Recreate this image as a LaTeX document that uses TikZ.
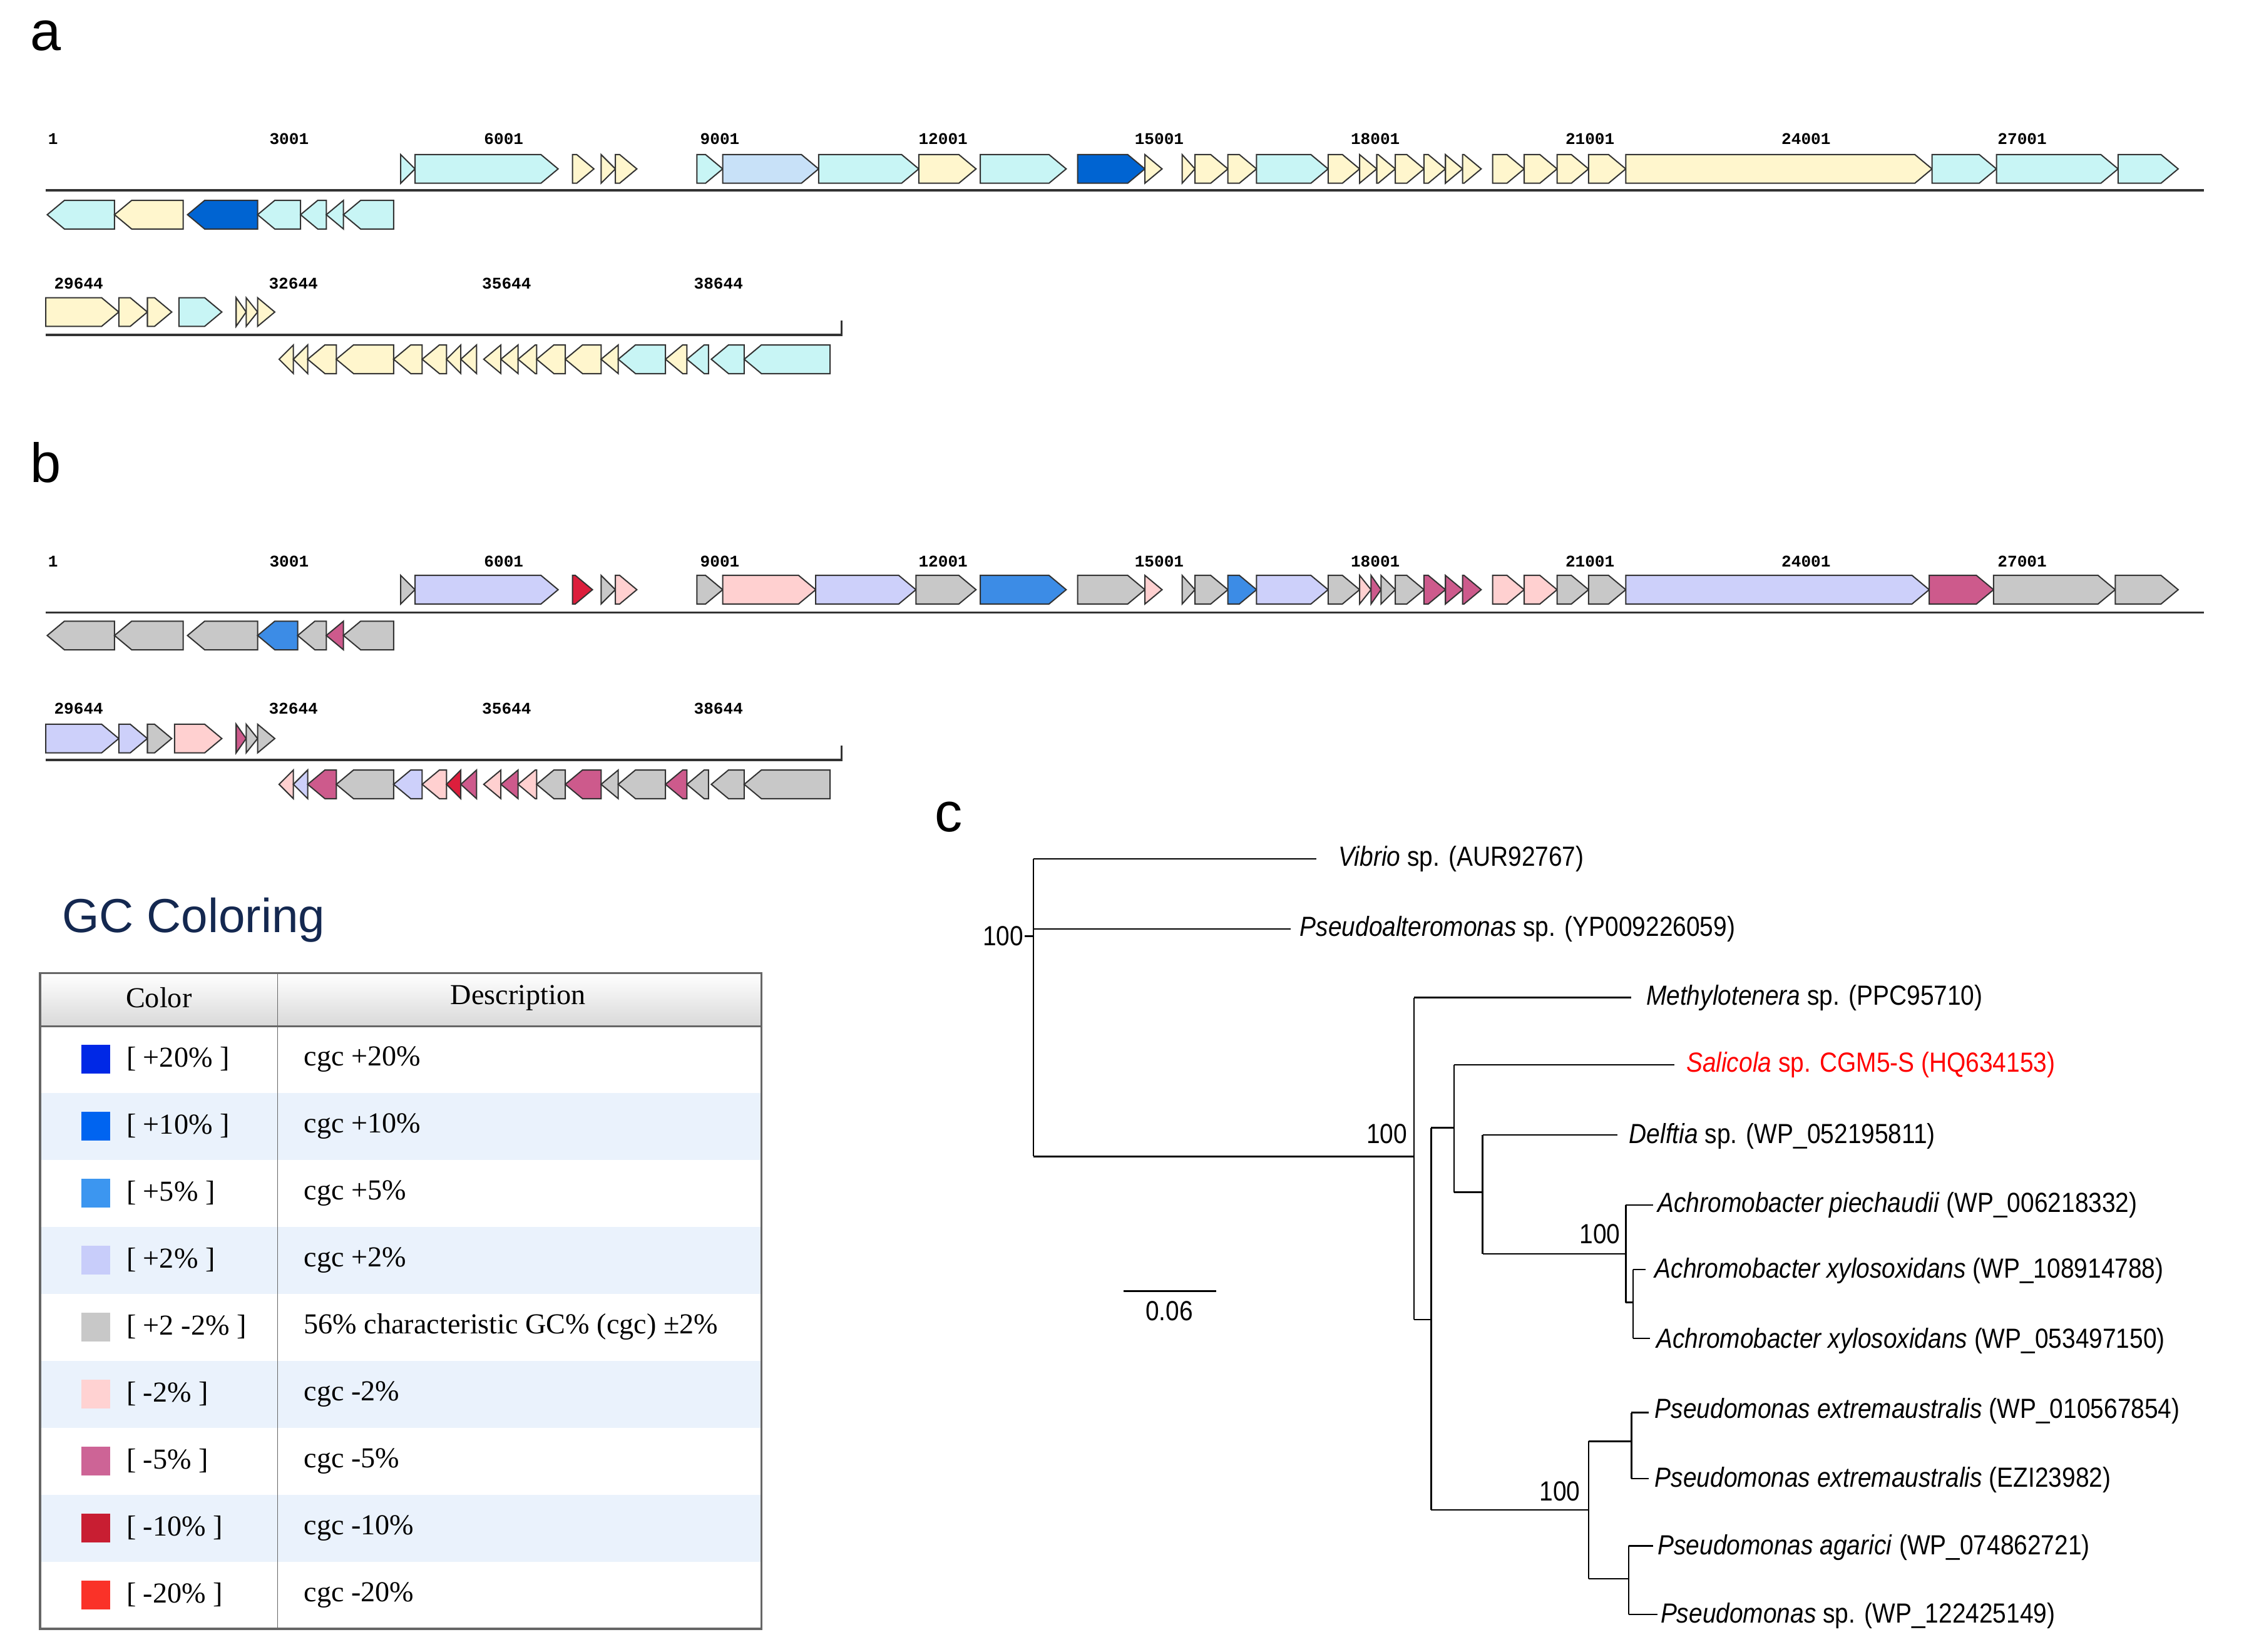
\documentclass[tikz,border=0pt]{standalone}
\usepackage{fontspec}
\setmainfont{Liberation Serif}
\newfontfamily\sans{Liberation Sans}
\newfontfamily\nsans[FakeStretch=0.88]{Liberation Sans}
\newfontfamily\mono{Liberation Mono}
\definecolor{cy}{RGB}{200,245,245}
\definecolor{ye}{RGB}{255,246,205}
\definecolor{db}{RGB}{0,100,210}
\definecolor{lb}{RGB}{200,225,248}
\definecolor{lv}{RGB}{205,208,250}
\definecolor{gr}{RGB}{200,200,200}
\definecolor{pk}{RGB}{255,208,208}
\definecolor{mg}{RGB}{205,90,140}
\definecolor{rd}{RGB}{220,30,60}
\definecolor{bl}{RGB}{60,140,230}
\definecolor{rowbg}{RGB}{234,242,252}
\definecolor{navy}{RGB}{20,40,80}
\newcommand\genR[4]{\pgfmathsetmacro\hx{max(#1,#2-12)}%
 \filldraw[gene,fill=#4] (#1,-#3+10)--(\hx,-#3+10)--(#2,-#3)--(\hx,-#3-10)--(#1,-#3-10)--cycle;}
\newcommand\genL[4]{\pgfmathsetmacro\hx{min(#2,#1+12)}%
 \filldraw[gene,fill=#4] (#2,-#3+10)--(\hx,-#3+10)--(#1,-#3)--(\hx,-#3-10)--(#2,-#3-10)--cycle;}
\begin{document}
\begin{tikzpicture}[x=0.02cm,y=0.02cm,
 gene/.style={draw=black!80,line width=0.5pt},
 trk/.style={line width=0.9pt,draw=black!80},
 poslab/.style={font=\mono\bfseries\fontsize{6.5}{7}\selectfont,anchor=base},
 tl/.style={font=\nsans\fontsize{11}{12}\selectfont,anchor=west,inner sep=0},
 br/.style={line width=0.6pt},
 tab/.style={font=\fontsize{11.5}{12}\selectfont,anchor=west,inner sep=0}]
\useasboundingbox (0,0) rectangle (1568,-1154);
% panel letters
\node[font=\sans\fontsize{22}{24}\selectfont] (la) at (32,-25) {a};
\node[font=\sans\fontsize{22}{24}\selectfont] (lb) at (32,-323) {b};
\node[font=\sans\fontsize{22}{24}\selectfont] (lc) at (663,-571) {c};
% ---------- position labels ----------
\foreach \x/\t in {37/1,202/3001,352/6001,503/9001,659/12001,810/15001,961/18001,1111/21001,1262/24001,1413/27001}{
 \node[poslab] at (\x,-101) {\t}; \node[poslab] at (\x,-396) {\t};}
\foreach \x/\t in {55/29644,205/32644,354/35644,502/38644}{
 \node[poslab] at (\x,-202) {\t}; \node[poslab] at (\x,-499) {\t};}
% ---------- track lines ----------
\draw[trk] (32,-133)--(1540,-133);
\draw[trk] (32,-234)--(588,-234)--(588,-224);
\draw[trk] (32,-428)--(1540,-428);
\draw[trk] (32,-531)--(588,-531)--(588,-521);
% ---------- panel a ----------
\foreach \a/\b/\c in {280/290/cy,290/390/cy,400/415/ye,420/430/ye,430/445/ye,487/505/cy,505/572/lb,572/642/cy,642/682/ye,685/745/cy,753/800/db,800/812/ye,826/835/ye,835/858/ye,858/878/ye,878/928/cy,928/950/ye,950/962/ye,962/975/ye,975/995/ye,995/1010/ye,1010/1022/ye,1022/1035/ye,1043/1065/ye,1065/1088/ye,1088/1110/ye,1110/1136/ye,1136/1350/ye,1350/1395/cy,1395/1480/cy,1480/1522/cy}{\genR{\a}{\b}{118}{\c}}
\foreach \a/\b/\c in {33/80/cy,80/128/ye,131/180/db,180/210/cy,210/228/cy,228/240/cy,240/275/cy}{\genL{\a}{\b}{150}{\c}}
\foreach \a/\b/\c in {32/83/ye,83/103/ye,103/120/ye,125/155/cy,165/172/ye,172/180/ye,180/192/ye}{\genR{\a}{\b}{218}{\c}}
\foreach \a/\b/\c in {195/205/ye,205/215/ye,215/235/ye,235/275/ye,275/295/ye,295/312/ye,312/322/ye,322/333/ye,338/350/ye,350/362/ye,362/375/ye,375/395/ye,395/420/ye,420/432/ye,432/465/cy,465/480/ye,480/495/cy,497/520/cy,520/580/cy}{\genL{\a}{\b}{251}{\c}}
% ---------- panel b ----------
\foreach \a/\b/\c in {280/290/gr,290/390/lv,400/414/rd,420/430/gr,430/445/pk,487/505/gr,505/570/pk,570/640/lv,640/682/gr,685/745/bl,753/800/gr,800/812/pk,826/835/gr,835/858/gr,858/878/bl,878/928/lv,928/950/gr,950/958/pk,958/965/mg,965/975/gr,975/995/gr,995/1010/mg,1010/1022/mg,1022/1035/mg,1043/1065/pk,1065/1088/pk,1088/1110/gr,1110/1136/gr,1136/1348/lv,1348/1393/mg,1393/1478/gr,1478/1522/gr}{\genR{\a}{\b}{412}{\c}}
\foreach \a/\b/\c in {33/80/gr,80/128/gr,131/180/gr,180/208/bl,208/228/gr,228/240/mg,240/275/gr}{\genL{\a}{\b}{444}{\c}}
\foreach \a/\b/\c in {32/83/lv,83/103/lv,103/120/gr,122/155/pk,165/172/mg,172/180/gr,180/192/gr}{\genR{\a}{\b}{516}{\c}}
\foreach \a/\b/\c in {195/205/pk,205/215/lv,215/235/mg,235/275/gr,275/295/lv,295/312/pk,312/322/rd,322/333/mg,338/350/pk,350/362/mg,362/375/pk,375/395/gr,395/420/mg,420/432/gr,432/465/gr,465/480/mg,480/495/gr,497/520/gr,520/580/gr}{\genL{\a}{\b}{548}{\c}}
% ---------- legend ----------
\node[font=\sans\fontsize{19}{21}\selectfont,text=navy,anchor=west,inner sep=0] (gct) at (43,-643) {GC Coloring};
\shade[top color=white,bottom color=black!15] (28,-680) rectangle (532,-717);
\foreach \i in {2,4,6,8}{\fill[rowbg] (28,{-717-(\i-1)*46.8}) rectangle (532,{-717-\i*46.8});}
\draw[black!60,line width=0.8pt] (28,-680) rectangle (532,-1138);
\draw[black!60] (194,-680)--(194,-1138);
\draw[black!60,line width=0.8pt] (28,-717)--(532,-717);
\node[tab,anchor=center] (hc) at (111,-697) {Color};
\node[tab,anchor=center] (hd) at (362,-697) {Description};
\definecolor{s1}{RGB}{0,40,230}\definecolor{s2}{RGB}{0,100,240}\definecolor{s3}{RGB}{60,150,240}
\definecolor{s4}{RGB}{200,205,250}\definecolor{s5}{RGB}{200,200,200}\definecolor{s6}{RGB}{255,210,210}
\definecolor{s7}{RGB}{205,100,150}\definecolor{s8}{RGB}{200,30,50}\definecolor{s9}{RGB}{250,50,40}
\foreach \i/\l/\d in {1/{[ +20\% ]}/{cgc +20\%},2/{[ +10\% ]}/{cgc +10\%},3/{[ +5\% ]}/{cgc +5\%},4/{[ +2\% ]}/{cgc +2\%},5/{[ +2 -2\% ]}/{56\% characteristic GC\% (cgc) ±2\%},6/{[ -2\% ]}/{cgc -2\%},7/{[ -5\% ]}/{cgc -5\%},8/{[ -10\% ]}/{cgc -10\%},9/{[ -20\% ]}/{cgc -20\%}}{
 \pgfmathsetmacro\yy{-740-(\i-1)*46.8}
 \fill[s\i] (57,\yy+10) rectangle (77,\yy-10);
 \node[tab] at (88,\yy) {\l};
 \node[tab] at (212,\yy) {\d};}
% ---------- tree ----------
\draw[br] (722,-600)--(722,-808);
\draw[br] (722,-600)--(920,-600);
\draw[br] (722,-649)--(902,-649);
\draw[br] (716,-654)--(722,-654);
\draw[br] (722,-808)--(988,-808);
\draw[br] (988,-697)--(988,-922);
\draw[br] (988,-697)--(1140,-697);
\draw[br] (988,-922)--(1000,-922);
\draw[br] (1000,-788)--(1000,-1055);
\draw[br] (1000,-788)--(1016,-788);
\draw[br] (1016,-744)--(1016,-833);
\draw[br] (1016,-744)--(1170,-744);
\draw[br] (1016,-833)--(1036,-833);
\draw[br] (1036,-793)--(1036,-876);
\draw[br] (1036,-793)--(1130,-793);
\draw[br] (1036,-876)--(1136,-876);
\draw[br] (1136,-842)--(1136,-910);
\draw[br] (1136,-842)--(1155,-842);
\draw[br] (1136,-910)--(1141,-910);
\draw[br] (1141,-887)--(1141,-935);
\draw[br] (1141,-887)--(1150,-887);
\draw[br] (1141,-935)--(1153,-935);
\draw[br] (1000,-1055)--(1110,-1055);
\draw[br] (1110,-1007)--(1110,-1103);
\draw[br] (1110,-1007)--(1140,-1007);
\draw[br] (1140,-987)--(1140,-1033);
\draw[br] (1140,-987)--(1152,-987);
\draw[br] (1140,-1033)--(1152,-1033);
\draw[br] (1110,-1103)--(1138,-1103);
\draw[br] (1138,-1080)--(1138,-1128);
\draw[br] (1138,-1080)--(1155,-1080);
\draw[br] (1138,-1128)--(1158,-1128);
\draw[br] (785,-902)--(850,-902);
\node[font=\nsans\fontsize{11}{12}\selectfont] (sb) at (817,-916) {0.06};
\node[font=\nsans\fontsize{11}{12}\selectfont] (b1) at (701,-654) {100};
\node[font=\nsans\fontsize{11}{12}\selectfont] (b2) at (969,-792) {100};
\node[font=\nsans\fontsize{11}{12}\selectfont] (b3) at (1118,-862) {100};
\node[font=\nsans\fontsize{11}{12}\selectfont] (b4) at (1090,-1042) {100};
\node[tl] (t1) at (935,-600) {\textit{Vibrio} sp. (AUR92767)};
\node[tl] (t2) at (908,-649) {\textit{Pseudoalteromonas} sp. (YP009226059)};
\node[tl] (t3) at (1150,-697) {\textit{Methylotenera} sp. (PPC95710)};
\node[tl,text=red] (t4) at (1178,-744) {\textit{Salicola} sp. CGM5-S (HQ634153)};
\node[tl] (t5) at (1138,-794) {\textit{Delftia} sp. (WP\_052195811)};
\node[tl] (t6) at (1158,-842) {\textit{Achromobacter piechaudii} (WP\_006218332)};
\node[tl] (t7) at (1156,-888) {\textit{Achromobacter xylosoxidans} (WP\_108914788)};
\node[tl] (t8) at (1157,-937) {\textit{Achromobacter xylosoxidans} (WP\_053497150)};
\node[tl] (t9) at (1156,-986) {\textit{Pseudomonas extremaustralis} (WP\_010567854)};
\node[tl] (t10) at (1156,-1034) {\textit{Pseudomonas extremaustralis} (EZI23982)};
\node[tl] (t11) at (1158,-1081) {\textit{Pseudomonas agarici} (WP\_074862721)};
\node[tl] (t12) at (1160,-1129) {\textit{Pseudomonas} sp. (WP\_122425149)};
\end{tikzpicture}
\end{document}
